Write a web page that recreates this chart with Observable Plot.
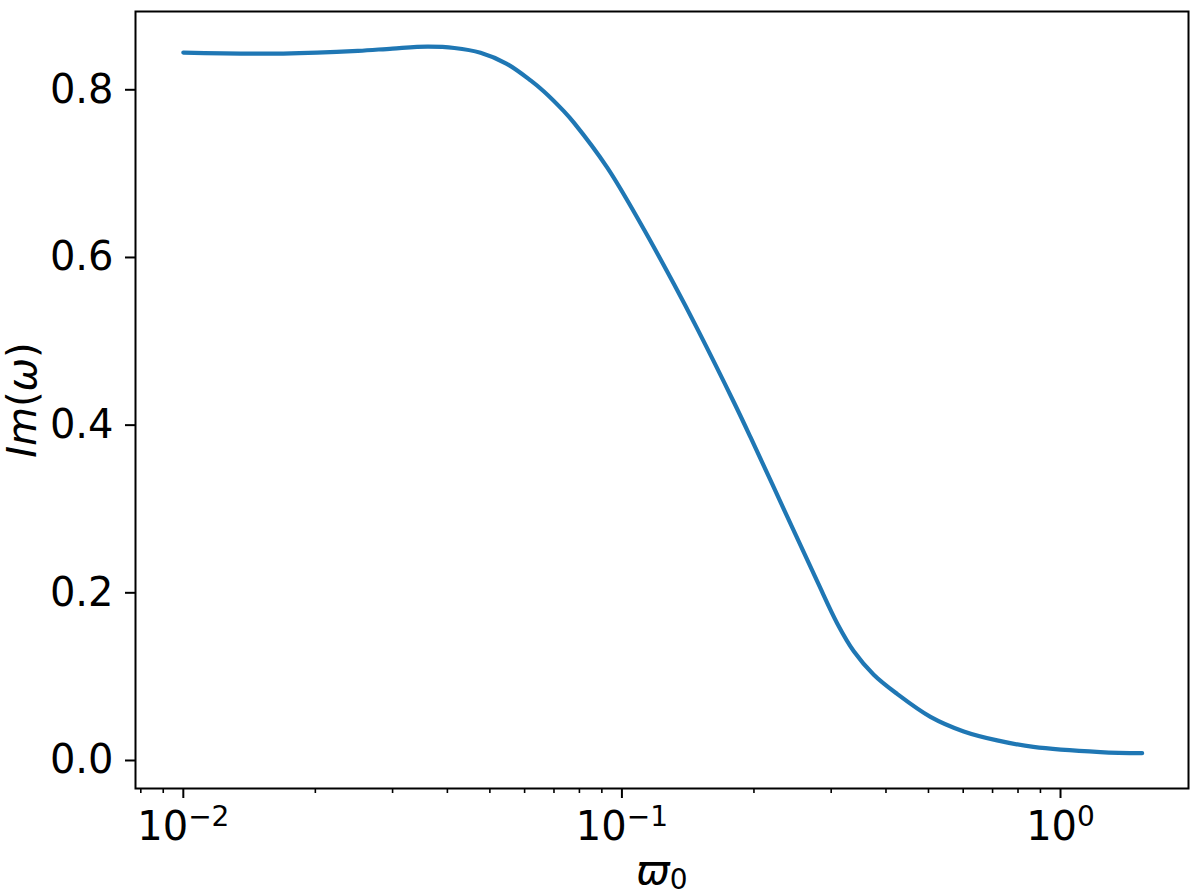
<!DOCTYPE html>
<html>
<head>
<meta charset="utf-8">
<script src="https://cdn.jsdelivr.net/npm/d3@7"></script>
<script src="https://cdn.jsdelivr.net/npm/@observablehq/plot@0.6"></script>
<style>
  html, body { margin: 0; padding: 0; background: #fff; }
  #chart svg { display: block; }
</style>
</head>
<body>
<div id="chart"></div>
<script>
// ---- data ----
const omega0 = [0.01, 0.0169, 0.025, 0.030, 0.036, 0.0415, 0.0476, 0.0545, 0.0619, 0.0664, 0.0737, 0.0777,
  0.0926, 0.1103, 0.1313, 0.1485, 0.1799, 0.1964, 0.2339, 0.2787, 0.3097, 0.3378, 0.3751,
  0.4241, 0.5052, 0.6016, 0.717, 0.8672, 1.233, 1.535];
const imOmega = [0.842, 0.8408, 0.8440, 0.8468, 0.8490, 0.8475, 0.8418, 0.8289, 0.8088, 0.7956, 0.7721, 0.7584,
  0.7047, 0.6381, 0.5662, 0.5127, 0.4252, 0.3833, 0.2975, 0.2115, 0.1611, 0.1279, 0.1000,
  0.0771, 0.0497, 0.0323, 0.0216, 0.0138, 0.0077, 0.0063];

const xMajorTicks = [0.01, 0.1, 1];
const xMajorExponents = ["\u22122", "\u22121", "0"];
const xMinorTicks = [0.008, 0.009, 0.02, 0.03, 0.04, 0.05, 0.06, 0.07, 0.08, 0.09,
  0.2, 0.3, 0.4, 0.5, 0.6, 0.7, 0.8, 0.9];
const yTicks = [0, 0.2, 0.4, 0.6, 0.8];
const xLabelMain = "\u03D6";
const xLabelSub = "0";
const yLabelParts = [["I", "italic"], ["m", "italic"], ["(", "normal"], ["\u03C9", "italic"], [")", "normal"]];
const yLabel = yLabelParts.map(p => p[0]).join("");

const data = omega0.map((x, i) => ({x, y: imOmega[i]}));

const FS = 40;
const chart = Plot.plot({
  width: 1200,
  height: 896,
  marginLeft: 135,
  marginRight: 12,
  marginTop: 11,
  marginBottom: 108,
  style: {fontFamily: "'DejaVu Sans', sans-serif", fontSize: FS + "px", color: "black", background: "white"},
  x: {type: "log", domain: [0.00778, 1.958]},
  y: {domain: [-0.0358, 0.891]},
  marks: [
    Plot.axisX(xMinorTicks, {tickSize: 5, tickFormat: () => "", strokeWidth: 1.6, label: null}),
    Plot.axisX(xMajorTicks, {
      tickSize: 10, tickPadding: 13, strokeWidth: 2, fontSize: FS, label: null,
      tickFormat: d => "10" + xMajorExponents[xMajorTicks.indexOf(d)]
    }),
    Plot.axisY(yTicks, {
      tickSize: 10, tickPadding: 12, strokeWidth: 2, fontSize: FS, label: null, dy: 2,
      tickFormat: d3.format(".1f")
    }),
    Plot.line(data, {x: "x", y: "y", stroke: "#1f77b4", strokeWidth: 4.2, curve: "catmull-rom"}),
    Plot.frame({stroke: "black", strokeWidth: 2}),
    Plot.text([yLabel], {
      frameAnchor: "left", dx: -112, rotate: -90, text: d => d, fontSize: FS,
      lineAnchor: "middle", textAnchor: "middle", ariaDescription: "y-label"
    }),
    Plot.text([xLabelMain], {
      frameAnchor: "bottom", dy: 95, text: d => d, fontSize: FS,
      lineAnchor: "bottom", textAnchor: "middle", ariaDescription: "x-label"
    })
  ]
});

document.getElementById("chart").appendChild(chart);

// typeset superscripts / subscripts / mixed styles as real text tspans
const NS = "http://www.w3.org/2000/svg";
function tspan(text, attrs) {
  const ts = document.createElementNS(NS, "tspan");
  for (const [k, v] of Object.entries(attrs || {})) ts.setAttribute(k, v);
  ts.textContent = text;
  return ts;
}
chart.querySelectorAll('g[aria-label="x-axis tick label"] text').forEach(t => {
  const s = t.textContent;
  if (!s || !s.startsWith("10")) return;
  const exp = s.slice(2);
  t.textContent = "10";
  t.appendChild(tspan(exp, {dy: "-14", "font-size": (FS * 0.7) + "px"}));
});
chart.querySelectorAll('g[aria-description="x-label"] text').forEach(t => {
  t.textContent = "";
  t.appendChild(tspan(xLabelMain, {"font-style": "italic"}));
  t.appendChild(tspan(xLabelSub, {dy: "5", "font-size": (FS * 0.7) + "px"}));
});
chart.querySelectorAll('g[aria-description="y-label"] text').forEach(t => {
  t.textContent = "";
  for (const [s, st] of yLabelParts) t.appendChild(tspan(s, {"font-style": st}));
});
</script>
</body>
</html>
